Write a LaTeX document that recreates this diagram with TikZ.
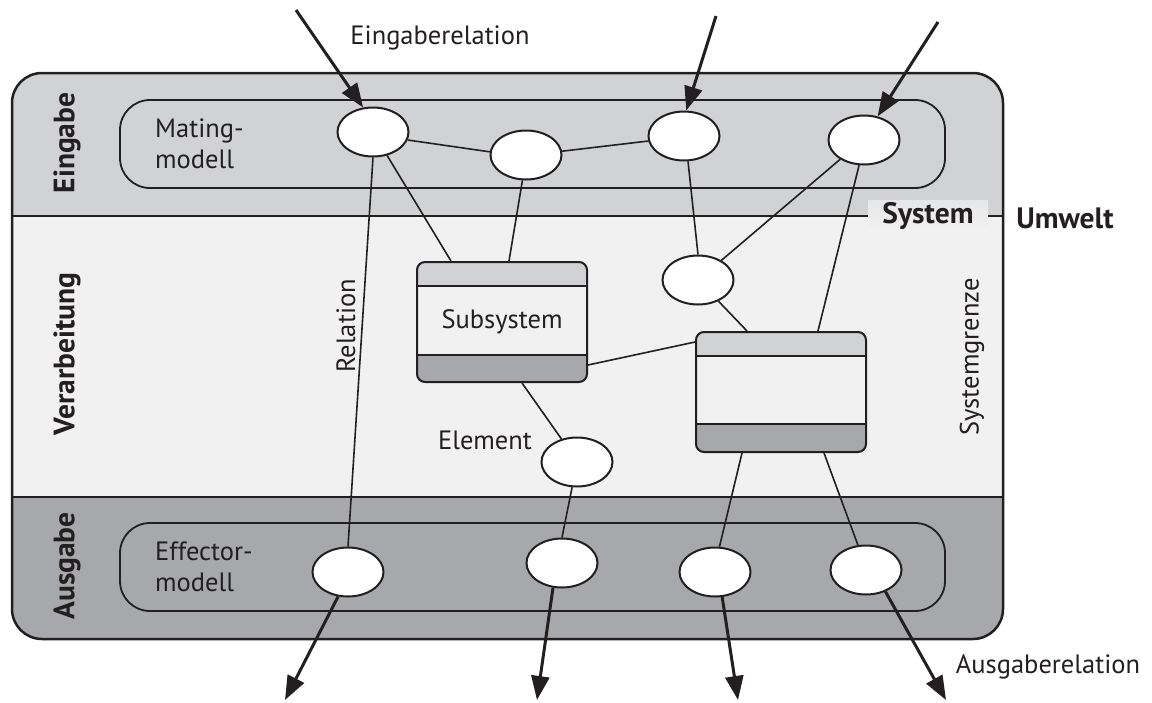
\documentclass[tikz,border=0pt]{standalone}
\usepackage{fontspec}
\setmainfont{PT Sans}
\usetikzlibrary{shapes.geometric,calc,arrows.meta}
\definecolor{bandA}{HTML}{D1D2D4}
\definecolor{bandB}{HTML}{F1F1F1}
\definecolor{bandC}{HTML}{A7A8AB}
\definecolor{ink}{HTML}{231F20}
\tikzset{
  ell/.style={ellipse, draw=ink, line width=2pt, fill=white, minimum width=71pt, minimum height=49pt, inner sep=0pt},
  conn/.style={draw=ink, line width=1.6pt},
  arr/.style={draw=ink, line width=3pt, -{Triangle[length=24pt,width=18pt]}},
  lbl/.style={font=\fontsize{26.5}{31}\selectfont, text=ink, inner sep=0pt},
  blbl/.style={font=\bfseries\fontsize{29.5}{33}\selectfont, text=ink, inner sep=0pt},
  sbox/.style args={#1/#2}{rectangle, rounded corners=8pt, draw=ink, line width=2pt,
    minimum width=170pt, minimum height=120pt, fill=bandB, inner sep=0pt,
    path picture={
      \fill[bandA, sharp corners] (path picture bounding box.north west) rectangle ([yshift=-#1]path picture bounding box.north east);
      \fill[bandC, sharp corners] (path picture bounding box.south west) rectangle ([yshift=#2]path picture bounding box.south east);
      \draw[ink, line width=2pt, sharp corners] ([yshift=-#1]path picture bounding box.north west) -- ([yshift=-#1]path picture bounding box.north east);
      \draw[ink, line width=2pt, sharp corners] ([yshift=#2]path picture bounding box.south west) -- ([yshift=#2]path picture bounding box.south east);
    }},
  model/.style={draw=ink, line width=1.8pt, rounded corners=30pt}
}
\begin{document}
\begin{tikzpicture}[x=1pt,y=-1pt]
\useasboundingbox (0,0) rectangle (1152,702);
% outer system box with bands
\begin{scope}
  \clip[rounded corners=30pt] (12,73) rectangle (1003,639);
  \fill[bandA] (0,60) rectangle (1010,216);
  \fill[bandB] (0,216) rectangle (1010,497);
  \fill[bandC] (0,497) rectangle (1010,650);
\end{scope}
\draw[ink, line width=2.5pt, rounded corners=30pt] (12,73) rectangle (1003,639);
\draw[ink, line width=2pt] (12,216) -- (1003,216);
\draw[ink, line width=2pt] (12,497) -- (1003,497);
% model boxes
\draw[model] (120,100) rectangle (945,188);
\draw[model] (120,523) rectangle (945,611);
% band labels
\node[blbl, rotate=90] (lEin) at (67,143) {Eingabe};
\node[blbl, rotate=90] (lVer) at (67,354) {Verarbeitung};
\node[blbl, rotate=90] (lAus) at (67,566) {Ausgabe};
\node[lbl, anchor=west, align=left] (mating) at (155,144) {Mating-\\modell};
\node[lbl, anchor=west, align=left] (effector) at (155,567) {Effector-\\modell};
% system / umwelt
\node[blbl, top color=bandA!55!white, bottom color=bandB, minimum width=120pt, minimum height=32pt] (sys) at (928,216) {System};
\node[blbl] (umw) at (1065,218) {Umwelt};
% subsystems
\node[sbox=24pt/27pt] (sub) at (502,322) {\fontsize{26.5}{31}\selectfont\color{ink}Subsystem};
\node[sbox=24pt/28pt] (rb) at (781,392) {};
% elements
\node[ell] (el1) at (373,132) {};
\node[ell] (el2) at (526,155) {};
\node[ell] (el3) at (684,136) {};
\node[ell] (el4) at (864,140) {};
\node[ell] (el5) at (698,280) {};
\node[ell] (el6) at (577,462) {};
\node[ell] (el7) at (348,572) {};
\node[ell] (el8) at (562,563) {};
\node[ell] (el9) at (715,572) {};
\node[ell] (el10) at (866,570) {};
% relations
\draw[conn] (el1.-13) -- (el2.175);
\draw[conn] (el2.6) -- (el3.188);
\draw[conn] (el1.-59) -- ([xshift=35pt]sub.north west);
\draw[conn] (el2.-98) -- ([xshift=93pt]sub.north west);
\draw[conn] (el1.south) -- (el7.north);
\draw[conn] (el3.-81) -- (el5.north);
\draw[conn] (el4.-141) -- (el5.40);
\draw[conn] (el4.-101) -- ([xshift=123pt]rb.north west);
\draw[conn] (el5.-46) -- ([xshift=52pt]rb.north west);
\draw[conn] ([yshift=-104pt]sub.north east) -- ([yshift=-11pt]rb.north west);
\draw[conn] ([xshift=106pt]sub.south west) -- (el6.124);
\draw[conn] (el6.-101) -- (el8.north);
\draw[conn] ([xshift=47pt]rb.south west) -- (el9.80);
\draw[conn] ([xshift=129pt]rb.south west) -- (el10.108);
% input / output relations
\coordinate (t1) at (296,10);
\coordinate (t2) at (716,16);
\coordinate (t3) at (938,22);
\coordinate (o1) at (285,700);
\coordinate (o2) at (537,700);
\coordinate (o3) at (738,700);
\coordinate (o4) at (946,700);
\draw[arr] (t1) -- (el1.112);
\draw[arr] (t2) -- (el3.85);
\draw[arr] (t3) -- (el4.60);
\draw[arr] (el7.-112) -- (o1);
\draw[arr] (el8.-110) -- (o2);
\draw[arr] (el9.-74) -- (o3);
\draw[arr] (el10.-48) -- (o4);
% text labels
\node[lbl] (eing) at (440,38) {Eingaberelation};
\node[lbl] (ausg) at (1048,667) {Ausgaberelation};
\node[lbl] (elem) at (485,440) {Element};
\node[lbl, rotate=90] (rel) at (346,326) {Relation};
\node[lbl, rotate=90] (sgr) at (972,357) {Systemgrenze};
\end{tikzpicture}
\end{document}
